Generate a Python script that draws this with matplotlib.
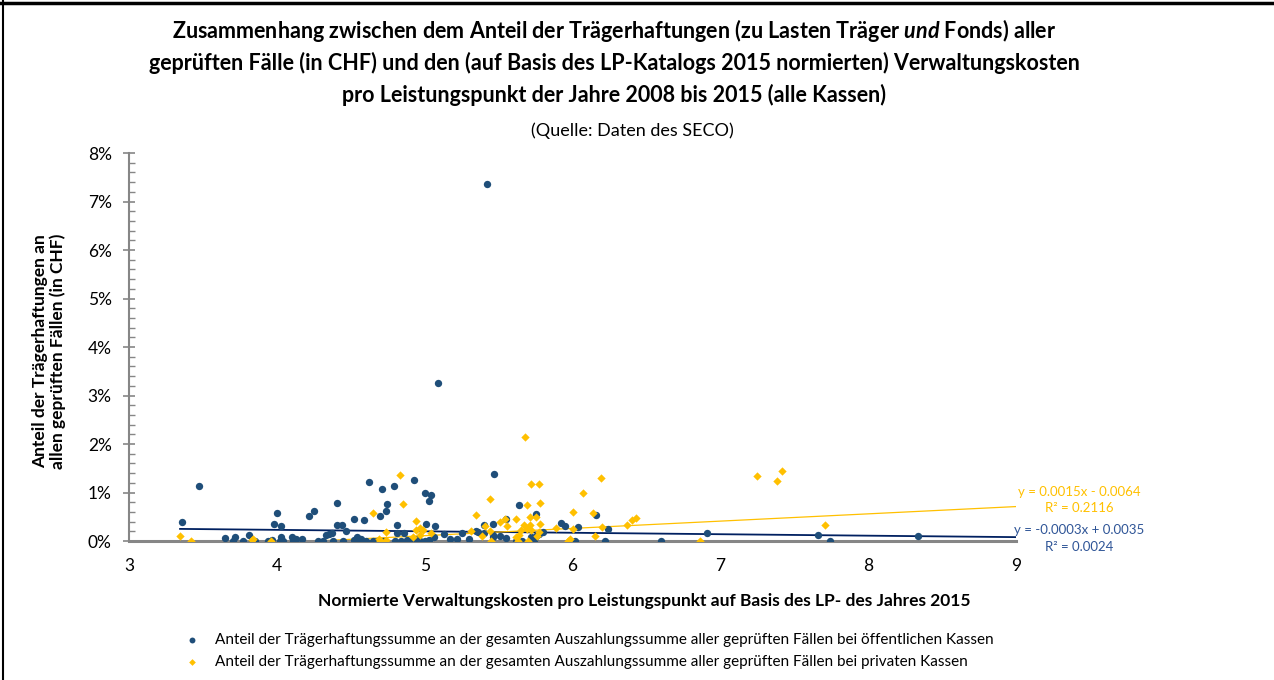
import numpy as np
import matplotlib
matplotlib.use("Agg")
import matplotlib.pyplot as plt
from matplotlib.ticker import MultipleLocator, FuncFormatter

plt.rcParams['font.family'] = ['Lato', 'DejaVu Sans']
plt.rcParams['mathtext.fontset'] = 'custom'
plt.rcParams['mathtext.bfit'] = 'Lato:italic:bold'
plt.rcParams['mathtext.rm'] = 'Lato'

# öffentliche Kassen: normierte Verwaltungskosten / Anteil Trägerhaftung (in %)
oeff_x = [3.36, 3.47, 3.65, 3.70, 3.72, 3.77, 3.81, 3.83, 3.85, 3.94, 3.97, 3.98,
          4.00, 4.03, 4.03, 4.02, 4.04, 4.10, 4.11, 4.13, 4.17, 4.22, 4.25, 4.28,
          4.31, 4.33, 4.35, 4.37, 4.38, 4.41, 4.41, 4.44, 4.47, 4.45, 4.52, 4.59,
          4.52, 4.54, 4.55, 4.57, 4.62, 4.60, 4.65, 4.70, 4.71, 4.74, 4.745, 4.79,
          4.68, 4.72, 4.81, 4.81, 4.86, 4.80, 4.84, 4.88, 4.91, 4.93, 4.95, 4.97,
          5.00, 5.04, 5.03, 5.01, 5.07, 5.00, 5.03, 5.06, 5.09, 5.13, 5.17, 5.22,
          5.25, 5.36, 5.40, 5.35, 5.42, 5.47, 5.30, 5.40, 5.46, 5.46, 5.46, 5.51,
          5.55, 5.55, 5.64, 5.75, 5.62, 5.66, 5.71, 5.74, 5.75, 5.80, 5.72, 5.73,
          5.77, 5.92, 5.95, 6.04, 6.16, 6.24, 6.02, 6.22, 6.60, 6.91, 7.66, 7.74,
          8.34]
oeff_y = [0.39, 1.14, 0.06, 0.00, 0.09, 0.00, 0.12, 0.01, 0.00, 0.00, 0.03, 0.36,
          0.58, 0.31, 0.09, 0.00, 0.00, 0.09, 0.00, 0.05, 0.05, 0.52, 0.62, 0.00,
          0.01, 0.12, 0.15, 0.17, 0.00, 0.78, 0.33, 0.34, 0.21, 0.00, 0.45, 0.44,
          0.02, 0.08, 0.00, 0.05, 1.21, 0.00, 0.00, 0.52, 1.07, 0.62, 0.76, 1.14,
          0.00, 0.00, 0.34, 0.16, 0.17, 0.00, 0.00, 0.02, 0.00, 1.26, 0.05, 0.00,
          1.00, 0.95, 0.82, 0.35, 0.31, 0.00, 0.03, 0.08, 3.26, 0.14, 0.04, 0.05,
          0.16, 0.19, 0.16, 0.21, 7.36, 1.38, 0.05, 0.34, 0.36, 0.12, 0.08, 0.10,
          0.07, 0.45, 0.74, 0.55, 0.00, 0.00, 0.00, 0.02, 0.10, 0.18, 0.09, 0.00,
          0.14, 0.38, 0.30, 0.28, 0.54, 0.24, 0.00, 0.00, 0.00, 0.17, 0.13, 0.00,
          0.10]

# private Kassen
priv_x = [3.345, 3.42, 3.83, 3.84, 3.96, 4.65, 4.69, 4.70, 4.74, 4.74, 4.83, 4.85,
          4.94, 4.94, 4.99, 5.04, 4.92, 4.97, 4.97, 5.31, 5.35, 5.39, 5.41, 5.44,
          5.45, 5.44, 5.51, 5.54, 5.56, 5.62, 5.67, 5.71, 5.78, 5.65, 5.69, 5.72,
          5.77, 5.68, 5.72, 5.77, 5.69, 5.78, 5.71, 5.75, 5.62, 5.64, 5.63, 5.70,
          5.76, 5.89, 5.97, 5.98, 6.00, 6.00, 6.07, 6.14, 6.15, 6.19, 6.20, 6.37,
          6.40, 6.43, 6.86, 7.25, 7.38, 7.42, 7.71]
priv_y = [0.10, 0.00, 0.02, 0.04, 0.00, 0.58, 0.05, 0.00, 0.03, 0.19, 1.36, 0.76,
          0.41, 0.22, 0.23, 0.16, 0.08, 0.12, 0.27, 0.21, 0.54, 0.10, 0.30, 0.87,
          0.00, 0.20, 0.40, 0.45, 0.30, 0.45, 0.33, 0.33, 0.35, 0.22, 0.24, 0.22,
          0.18, 2.14, 1.18, 1.18, 0.74, 0.78, 0.50, 0.50, 0.08, 0.12, 0.00, 0.00,
          0.10, 0.26, 0.00, 0.05, 0.25, 0.60, 1.00, 0.57, 0.11, 1.29, 0.28, 0.32,
          0.44, 0.47, 0.00, 1.35, 1.24, 1.44, 0.32]

# lineare Trends (aus Excel)
trend_oeff = (-0.0003, 0.0035)
trend_priv = (0.0015, -0.0064)

blau = '#1F4E79'
gelb = '#FFC000'
grau = '#868686'

fig = plt.figure(figsize=(12.74, 6.8), dpi=100)
ax = fig.add_axes([0.1013, 0.2044, 0.6962, 0.5706])

ox = np.array(oeff_x)
oy = np.array(oeff_y) / 100
px = np.array(priv_x)
py = np.array(priv_y) / 100

ax.scatter(ox, oy, s=28, color=blau, marker='o', linewidths=0, zorder=3,
           label='Anteil der Trägerhaftungssumme an der gesamten Auszahlungssumme aller geprüften Fällen bei öffentlichen Kassen')
ax.scatter(px, py, s=18, color=gelb, marker='D', linewidths=0, zorder=3,
           label='Anteil der Trägerhaftungssumme an der gesamten Auszahlungssumme aller geprüften Fällen bei privaten Kassen')

xs = np.array([min(ox.min(), px.min()), 9])
ax.plot(xs, trend_oeff[0] * xs + trend_oeff[1], color='#002060', lw=1.3, zorder=2)
ax.plot(xs, trend_priv[0] * xs + trend_priv[1], color=gelb, lw=0.9, zorder=2)

ax.set_xlim(3, 9)
ax.set_ylim(0, 0.08)
ax.yaxis.set_major_locator(MultipleLocator(0.01))
ax.yaxis.set_minor_locator(MultipleLocator(0.002))
ax.yaxis.set_major_formatter(FuncFormatter(lambda v, p: '%d%%' % round(v * 100)))
ax.xaxis.set_major_locator(MultipleLocator(1))

for s in ['top', 'right']:
    ax.spines[s].set_visible(False)
for s in ['left', 'bottom']:
    ax.spines[s].set_color(grau)
ax.spines['left'].set_linewidth(1.5)
ax.spines['bottom'].set_linewidth(2.2)
ax.tick_params(axis='y', which='major', direction='inout', length=9, width=1.2,
               color=grau, labelsize=12.5, pad=8)
ax.tick_params(axis='y', which='minor', direction='in', length=4, width=1,
               color=grau)
ax.tick_params(axis='x', length=0, labelsize=12.5, pad=12)

ax.set_xlabel('Normierte Verwaltungskosten pro Leistungspunkt auf Basis des LP- des Jahres 2015',
              fontsize=12.5, fontweight='bold')
ax.xaxis.set_label_coords(0.581, -0.135)
ax.set_ylabel('Anteil der Trägerhaftungen an\nallen geprüften Fällen (in CHF)',
              fontsize=12.5, fontweight='bold', linespacing=1.1)
ax.yaxis.set_label_coords(-0.071, 0.49)

fig.text(0.482, 0.955, 'Zusammenhang zwischen dem Anteil der Trägerhaftungen (zu Lasten Träger $\\mathbfit{und}$ Fonds) aller',
         ha='center', va='center', fontsize=15.5, fontweight='bold')
fig.text(0.482, 0.908, 'geprüften Fälle (in CHF) und den (auf Basis des LP-Katalogs 2015 normierten) Verwaltungskosten',
         ha='center', va='center', fontsize=15.5, fontweight='bold')
fig.text(0.482, 0.861, 'pro Leistungspunkt der Jahre 2008 bis 2015 (alle Kassen)',
         ha='center', va='center', fontsize=15.5, fontweight='bold')
fig.text(0.496, 0.808, '(Quelle: Daten des SECO)', ha='center', va='center', fontsize=13)

fig.text(0.847, 0.265, 'y = 0.0015x - 0.0064\nR² = 0.2116', ha='center', va='center',
         fontsize=9.5, color=gelb, linespacing=1.45)
fig.text(0.847, 0.208, 'y = -0.0003x + 0.0035\nR² = 0.0024', ha='center', va='center',
         fontsize=9.5, color='#2F5597', linespacing=1.45)

fig.legend(loc='upper left', bbox_to_anchor=(0.134, 0.078),
           frameon=False, fontsize=11, handletextpad=0.5, labelspacing=0.55,
           markerscale=0.8, borderaxespad=0)

# Rahmen oben und links
fig.add_artist(plt.Line2D([0, 1], [0.996, 0.996], color='black', lw=2.5, transform=fig.transFigure))
fig.add_artist(plt.Line2D([0.002, 0.002], [0, 1], color='black', lw=1.5, transform=fig.transFigure))

fig.savefig('out.png', dpi=100)
